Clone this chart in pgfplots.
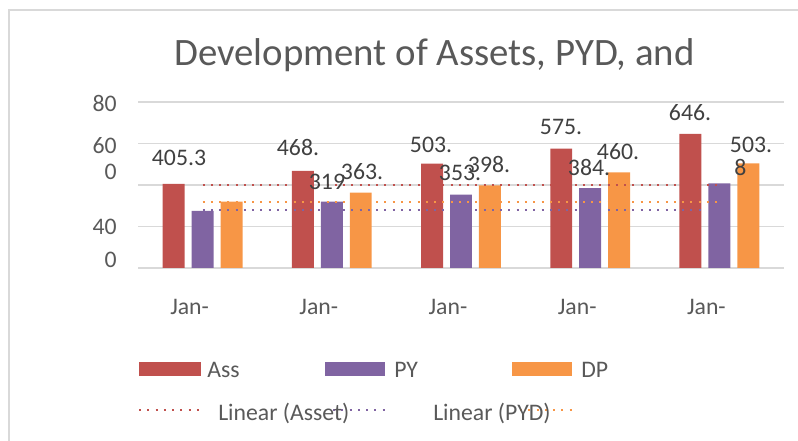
\documentclass[border=0pt]{standalone}
\usepackage{pgfplots}
\pgfplotsset{compat=1.18}
\usepackage{fontspec}
\setmainfont{Carlito}
\definecolor{cA}{HTML}{C0504D}
\definecolor{cP}{HTML}{8064A2}
\definecolor{cD}{HTML}{F79646}
\definecolor{txt}{HTML}{595959}
\definecolor{lbl}{HTML}{404040}
\definecolor{grd}{HTML}{D9D9D9}
\newcommand{\fs}{\fontsize{17.8}{20}\selectfont}
\begin{document}
\begin{tikzpicture}[x=0.75pt,y=0.75pt]
\path[use as bounding box] (0,0) rectangle (798,441);
\draw[grd, line width=1.2pt] (9,-5) -- (9,431) -- (805,431);
\begin{axis}[at={(103.5pt,129.75pt)}, anchor=south west, scale only axis,
  width=484.5pt, height=124.5pt,
  xmin=-0.5, xmax=4.5, ymin=0, ymax=800, clip=false,
  axis line style={draw=none}, major tick length=0pt,
  ytick={0,200,400,600,800}, yticklabels={},
  ymajorgrids, grid style={grd, line width=1.1pt},
  xtick={0,1,2,3,4}, xticklabels={Jan-,Jan-,Jan-,Jan-,Jan-},
  xticklabel style={anchor=center, yshift=-29.25pt, xshift=-9.75pt, font=\fs, text=txt},
  extra y ticks={39,198,463,588,795},
  extra y tick labels={{0\hspace{15pt}},{40\hspace{5.25pt}},0,60,{80\hspace{5.25pt}}},
  extra y tick style={grid=none, yticklabel style={anchor=east, inner sep=0pt, xshift=-15.75pt, font=\fs, text=txt}},
  /pgf/number format/assume math mode=true,
  bar width=0.17,
]
\addplot[ybar, fill=cA, draw=none, bar shift=-0.224] coordinates {(0,405.3) (1,468.2) (2,503.4) (3,575.4) (4,646.5)};
\addplot[ybar, fill=cP, draw=none, bar shift=0] coordinates {(0,275) (1,319.5) (2,353.5) (3,384.5) (4,408)};
\addplot[ybar, fill=cD, draw=none, bar shift=0.224] coordinates {(0,320) (1,363.5) (2,398.5) (3,460.5) (4,503.8)};
\addplot[cA, line width=1.5pt, dash pattern=on 1.5pt off 4.7pt] coordinates {(0,400) (4,400)};
\addplot[cD, line width=1.5pt, dash pattern=on 1.5pt off 4.7pt] coordinates {(0,318) (4,318)};
\addplot[cP, line width=1.5pt, dash pattern=on 1.5pt off 4.7pt] coordinates {(0,280) (3.9,280)};
\end{axis}
% title
\node[text=txt, font=\fontsize{29.1}{33}\selectfont] at (434.5,386) {Development of Assets, PYD, and};
% data labels
\begin{scope}[every node/.style={text=lbl, font=\fs, inner sep=0pt}]
\node at (179,283) {405.3};
\node at (298,294) {468.};
\node at (327,259) {319};
\node at (362,269) {363.};
\node at (431,296) {503.};
\node at (460,268) {353.};
\node at (489,277) {398.};
\node at (561,314) {575.};
\node at (589,274) {384.};
\node at (618,289) {460.};
\node at (690,328) {646.};
\node at (751,296) {503.};
\node[anchor=west] at (734,274) {8};
\end{scope}
% legend
\fill[cA] (139,65) rectangle (201,79);
\fill[cP] (325,65) rectangle (385,79);
\fill[cD] (512,65) rectangle (572,79);
\node[anchor=base west, inner sep=0pt, text=txt, font=\fs] at (207,63) {Ass};
\node[anchor=base west, inner sep=0pt, text=txt, font=\fs] at (394,63) {PY};
\node[anchor=base west, inner sep=0pt, text=txt, font=\fs] at (581,63) {DP};
\draw[cA, line width=1.5pt, dash pattern=on 1.5pt off 4.7pt] (139,31) -- (200,31);
\draw[cP, line width=1.5pt, dash pattern=on 1.5pt off 4.7pt] (333,31) -- (385,31);
\draw[cD, line width=1.5pt, dash pattern=on 1.5pt off 4.7pt] (520,31) -- (572,31);
\node[anchor=base west, inner sep=0pt, text=txt, font=\fs] at (218,20) {Linear (Asset)};
\node[anchor=base west, inner sep=0pt, text=txt, font=\fs] at (433,20) {Linear (PYD)};
\end{tikzpicture}
\end{document}
